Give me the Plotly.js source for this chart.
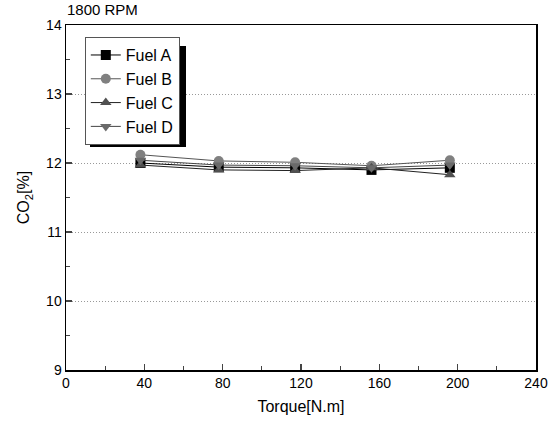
<!DOCTYPE html>
<html>
<head>
<meta charset="utf-8">
<script src="https://cdn.plot.ly/plotly-3.0.1.min.js"></script>
<style>html,body{margin:0;padding:0;background:#fff;}#chart{width:557px;height:425px;}</style>
</head>
<body>
<div id="chart"></div>
<script>
var torque = [38, 78, 117, 156, 196];
var fuelA = [12.00, 11.94, 11.93, 11.90, 11.93];
var fuelB = [12.12, 12.03, 12.01, 11.96, 12.04];
var fuelC = [11.97, 11.90, 11.89, 11.93, 11.83];
var fuelD = [12.04, 11.97, 11.96, 11.93, 11.97];
var names = ['Fuel A', 'Fuel B', 'Fuel C', 'Fuel D'];
var series = [fuelA, fuelB, fuelC, fuelD];
var symbols = ['square', 'circle', 'triangle-up', 'triangle-down'];
var colors = ['#000000', '#808080', '#505050', '#6a6a6a'];
var lineColors = ['#000000', '#555555', '#222222', '#444444'];

var traces = series.map(function(s, i) {
  return {
    x: torque, y: s, name: names[i], type: 'scatter', mode: 'lines+markers',
    line: {color: lineColors[i], width: 1},
    marker: {symbol: symbols[i], size: 10, color: colors[i], line: {width: 0}}
  };
});

var layout = {
  width: 557, height: 425,
  margin: {l: 66, r: 21, t: 25, b: 55},
  paper_bgcolor: '#fff', plot_bgcolor: '#fff',
  font: {family: 'Liberation Sans, Arial, sans-serif', color: '#000', size: 14},
  title: {text: '1800 RPM', x: 67/557, xanchor: 'left', y: 0.99, yanchor: 'top', font: {size: 15}},
  showlegend: true,
  legend: {x: 0.04, y: 0.965, xanchor: 'left', yanchor: 'top', bgcolor: '#fff',
           bordercolor: '#555', borderwidth: 1, font: {size: 16}, tracegroupgap: 0,
           itemwidth: 30},
  xaxis: {range: [0, 240], dtick: 40, tick0: 0, ticks: 'inside', ticklen: 6, tickwidth: 1.5,
          showline: true, linewidth: 1.5, linecolor: '#000', mirror: true, showgrid: false,
          zeroline: false, tickfont: {size: 14},
          minor: {ticks: 'inside', dtick: 20, ticklen: 4, tickwidth: 1},
          title: {text: 'Torque[N.m]', font: {size: 16}, standoff: 10}},
  yaxis: {range: [9, 14], dtick: 1, tick0: 9, ticks: 'inside', ticklen: 6, tickwidth: 1.5,
          showline: true, linewidth: 1.5, linecolor: '#000', mirror: true, showgrid: true,
          gridcolor: '#999', griddash: '1px,2px', gridwidth: 1, zeroline: false, tickfont: {size: 14},
          minor: {ticks: 'inside', dtick: 0.5, ticklen: 4, tickwidth: 1},
          title: {text: 'CO<sub>2</sub>[%]', font: {size: 16}, standoff: 12}},
  shapes: [{type: 'rect', xref: 'paper', yref: 'paper', layer: 'above',
            x0: (90-66)/470, x1: (186-66)/470, y0: (370-147)/345, y1: (370-46)/345,
            fillcolor: '#000', line: {width: 0}}]
};

Plotly.newPlot('chart', traces, layout, {displayModeBar: false, staticPlot: true});
</script>
</body>
</html>
